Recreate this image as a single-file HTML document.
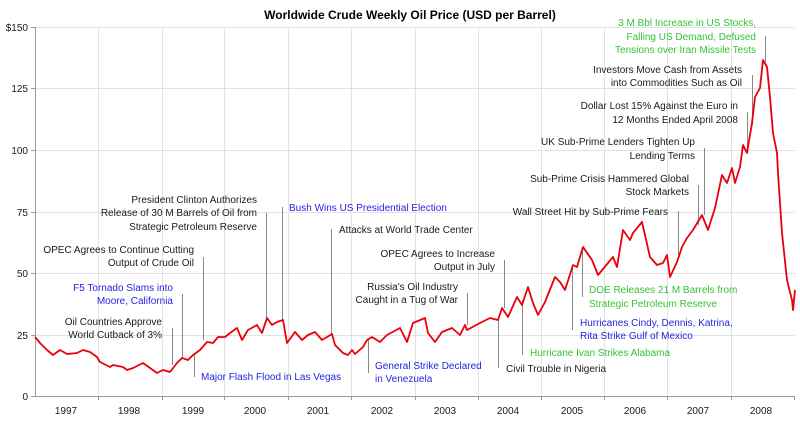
<!DOCTYPE html>
<html><head><meta charset="utf-8"><style>
html,body{margin:0;padding:0;background:#fff}
svg text{font-family:"Liberation Sans",Arial,sans-serif;font-size:10px}
.b{fill:#1a1a1a}.bl{fill:#2424e0}.g{fill:#33c433}
</style></head><body>
<svg width="800" height="425" viewBox="0 0 800 425" xmlns="http://www.w3.org/2000/svg">
<rect width="800" height="425" fill="#fff"/>
<text x="410" y="19" text-anchor="middle" style="font-weight:bold;font-size:12px" fill="#000">Worldwide Crude Weekly Oil Price (USD per Barrel)</text>
<g stroke="#e2e2e2" stroke-width="1">
<line x1="35" y1="27.5" x2="795" y2="27.5"/><line x1="35" y1="88.5" x2="795" y2="88.5"/><line x1="35" y1="150.5" x2="795" y2="150.5"/><line x1="35" y1="212.5" x2="795" y2="212.5"/><line x1="35" y1="273.5" x2="795" y2="273.5"/><line x1="35" y1="335.5" x2="795" y2="335.5"/>
<line x1="98.5" y1="27" x2="98.5" y2="396"/><line x1="162.5" y1="27" x2="162.5" y2="396"/><line x1="224.5" y1="27" x2="224.5" y2="396"/><line x1="288.5" y1="27" x2="288.5" y2="396"/><line x1="351.5" y1="27" x2="351.5" y2="396"/><line x1="415.5" y1="27" x2="415.5" y2="396"/><line x1="478.5" y1="27" x2="478.5" y2="396"/><line x1="541.5" y1="27" x2="541.5" y2="396"/><line x1="604.5" y1="27" x2="604.5" y2="396"/><line x1="667.5" y1="27" x2="667.5" y2="396"/><line x1="731.5" y1="27" x2="731.5" y2="396"/>
</g>
<g stroke="#999" stroke-width="1">
<line x1="35.5" y1="27" x2="35.5" y2="397"/><line x1="35" y1="396.5" x2="795" y2="396.5"/>
<line x1="31" y1="27.5" x2="35" y2="27.5"/><line x1="31" y1="88.5" x2="35" y2="88.5"/><line x1="31" y1="150.5" x2="35" y2="150.5"/><line x1="31" y1="212.5" x2="35" y2="212.5"/><line x1="31" y1="273.5" x2="35" y2="273.5"/><line x1="31" y1="335.5" x2="35" y2="335.5"/><line x1="31" y1="396.5" x2="35" y2="396.5"/>
<line x1="98.5" y1="396" x2="98.5" y2="400"/><line x1="162.5" y1="396" x2="162.5" y2="400"/><line x1="224.5" y1="396" x2="224.5" y2="400"/><line x1="288.5" y1="396" x2="288.5" y2="400"/><line x1="351.5" y1="396" x2="351.5" y2="400"/><line x1="415.5" y1="396" x2="415.5" y2="400"/><line x1="478.5" y1="396" x2="478.5" y2="400"/><line x1="541.5" y1="396" x2="541.5" y2="400"/><line x1="604.5" y1="396" x2="604.5" y2="400"/><line x1="667.5" y1="396" x2="667.5" y2="400"/><line x1="731.5" y1="396" x2="731.5" y2="400"/><line x1="794.5" y1="396" x2="794.5" y2="400"/>
</g>
<g class="b" text-anchor="end">
<text x="28" y="31">$150</text><text x="28" y="92">125</text><text x="28" y="154">100</text><text x="28" y="216">75</text><text x="28" y="277">50</text><text x="28" y="339">25</text><text x="28" y="400">0</text>
</g>
<g class="b" text-anchor="middle">
<text x="66" y="414">1997</text><text x="129" y="414">1998</text><text x="193" y="414">1999</text><text x="255" y="414">2000</text><text x="318" y="414">2001</text><text x="382" y="414">2002</text><text x="445" y="414">2003</text><text x="508" y="414">2004</text><text x="572" y="414">2005</text><text x="635" y="414">2006</text><text x="698" y="414">2007</text><text x="761" y="414">2008</text>
</g>
<g stroke="#888" stroke-width="1">
<line x1="266.5" y1="213" x2="266.5" y2="318"/><line x1="203.5" y1="257" x2="203.5" y2="340"/><line x1="182.5" y1="294" x2="182.5" y2="358"/><line x1="172.5" y1="328" x2="172.5" y2="365"/><line x1="194.5" y1="355" x2="194.5" y2="377"/><line x1="282.5" y1="207" x2="282.5" y2="320"/><line x1="331.5" y1="229" x2="331.5" y2="334"/><line x1="504.5" y1="260" x2="504.5" y2="308"/><line x1="467.5" y1="293" x2="467.5" y2="325"/><line x1="368.5" y1="340" x2="368.5" y2="373"/><line x1="498.5" y1="318" x2="498.5" y2="368"/><line x1="522.5" y1="300" x2="522.5" y2="355"/><line x1="572.5" y1="265" x2="572.5" y2="330"/><line x1="582.5" y1="248" x2="582.5" y2="297"/><line x1="678.5" y1="211" x2="678.5" y2="255"/><line x1="698.5" y1="185" x2="698.5" y2="225"/><line x1="704.5" y1="148" x2="704.5" y2="215"/><line x1="747.5" y1="112" x2="747.5" y2="150"/><line x1="752.5" y1="75" x2="752.5" y2="125"/><line x1="765.5" y1="36" x2="765.5" y2="62"/>
</g>
<polyline fill="none" stroke="#e8000b" stroke-width="1.8" stroke-linejoin="round" points="35,337 40,343 47,350 53,355 60,350 67,354 77,353 83,350 90,352 97,357 100,362 110,367 113,365 123,367 127,370 133,368 143,363 150,368 157,373 163,370 170,372 177,363 182,358 188,360 193,355 200,350 207,342 213,343 218,337 225,337 230,333 237,328 242,340 248,330 257,325 262,333 267,318 272,325 277,322 283,320 287,343 295,332 302,340 308,335 315,332 322,340 332,334 335,345 343,353 348,355 352,350 355,354 363,347 367,340 372,337 380,342 387,335 400,328 407,342 413,323 425,318 428,333 435,342 442,332 452,328 460,335 465,325 467,330 480,323 490,318 498,320 502,308 508,317 517,297 522,305 528,287 533,303 538,315 545,302 555,277 560,282 565,290 573,265 577,267 583,247 592,260 598,275 608,263 613,257 617,267 623,230 630,240 633,233 642,222 650,257 657,265 663,263 667,255 670,277 677,262 682,247 687,238 693,230 702,215 708,230 715,208 722,175 727,183 732,168 735,183 740,167 743,145 747,153 752,123 755,97 760,88 763,60 767,67 770,97 773,133 777,153 778,173 782,233 787,280 792,300 793,310 795,290"/>
<g text-anchor="end">
<text class="b" x="257" y="203">President Clinton Authorizes</text><text class="b" x="257" y="216">Release of 30 M Barrels of Oil from</text><text class="b" x="257" y="230">Strategic Petroleum Reserve</text>
<text class="b" x="194" y="253">OPEC Agrees to Continue Cutting</text><text class="b" x="194" y="266">Output of Crude Oil</text>
<text class="bl" x="173" y="291">F5 Tornado Slams into</text><text class="bl" x="173" y="304">Moore, California</text>
<text class="b" x="162" y="325">Oil Countries Approve</text><text class="b" x="162" y="338">World Cutback of 3%</text>
<text class="b" x="495" y="257">OPEC Agrees to Increase</text><text class="b" x="495" y="270">Output in July</text>
<text class="b" x="458" y="290">Russia's Oil Industry</text><text class="b" x="458" y="303">Caught in a Tug of War</text>
<text class="b" x="668" y="215">Wall Street Hit by Sub-Prime Fears</text>
<text class="b" x="689" y="182">Sub-Prime Crisis Hammered Global</text><text class="b" x="689" y="195">Stock Markets</text>
<text class="b" x="695" y="145">UK Sub-Prime Lenders Tighten Up</text><text class="b" x="695" y="159">Lending Terms</text>
<text class="b" x="738" y="109">Dollar Lost 15% Against the Euro in</text><text class="b" x="738" y="123">12 Months Ended April 2008</text>
<text class="b" x="742" y="73">Investors Move Cash from Assets</text><text class="b" x="742" y="86">into Commodities Such as Oil</text>
<text class="g" x="756" y="26">3 M Bbl Increase in US Stocks,</text><text class="g" x="756" y="40">Falling US Demand, Defused</text><text class="g" x="756" y="53">Tensions over Iran Missile Tests</text>
</g>
<g>
<text class="bl" x="201" y="380">Major Flash Flood in Las Vegas</text>
<text class="bl" x="289" y="211">Bush Wins US Presidential Election</text>
<text class="b" x="339" y="233">Attacks at World Trade Center</text>
<text class="bl" x="375" y="369">General Strike Declared</text><text class="bl" x="375" y="382">in Venezuela</text>
<text class="b" x="506" y="372">Civil Trouble in Nigeria</text>
<text class="g" x="530" y="356">Hurricane Ivan Strikes Alabama</text>
<text class="bl" x="580" y="326">Hurricanes Cindy, Dennis, Katrina,</text><text class="bl" x="580" y="339">Rita Strike Gulf of Mexico</text>
<text class="g" x="589" y="293">DOE Releases 21 M Barrels from</text><text class="g" x="589" y="307">Strategic Petroleum Reserve</text>
</g>
</svg>
</body></html>
